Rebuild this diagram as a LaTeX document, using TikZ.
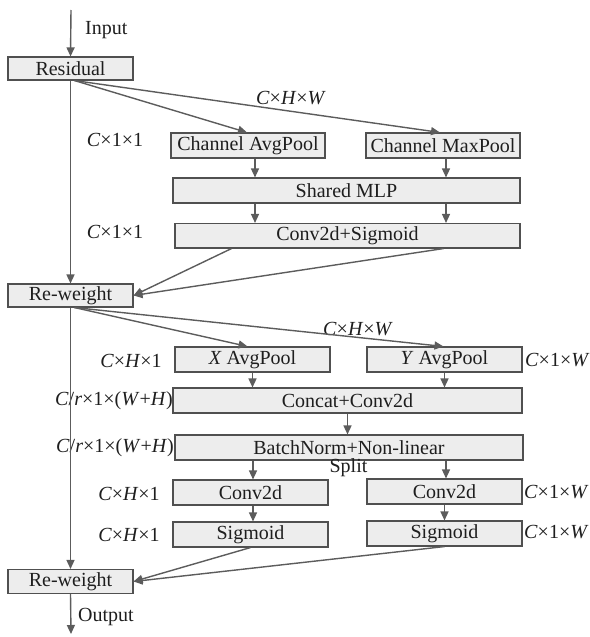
\documentclass[tikz,border=0pt]{standalone}
\usepackage{fontspec}
\setmainfont{Liberation Serif}
\newfontfamily\tnr{Liberation Serif}
\usetikzlibrary{arrows.meta}
\definecolor{boxfill}{HTML}{EDEDED}
\definecolor{boxdraw}{HTML}{505050}
\definecolor{linec}{HTML}{5C5C5C}
\definecolor{txt}{HTML}{1E1E1E}
\begin{document}
\begin{tikzpicture}[x=1pt,y=-1pt,
  box/.style={draw=boxdraw,fill=boxfill,line width=1.1pt,inner sep=0pt,
    font=\tnr\fontsize{20}{22}\selectfont,text=txt,anchor=center},
  lbl/.style={inner sep=0pt,font=\tnr\fontsize{20}{22}\selectfont,text=txt},
  arr/.style={draw=linec,line width=1.4pt,-{Triangle[length=9pt,width=8pt]}},
  ln/.style={draw=linec,line width=1.4pt}]
\useasboundingbox (0,0) rectangle (589,637);
% boxes
\node[box,minimum width=125,minimum height=23] (res) at (70.5,68.5) {Residual};
\node[box,minimum width=154,minimum height=25] (cavg) at (248,145.5) {Channel AvgPool};
\node[box,minimum width=154,minimum height=25] (cmax) at (443,145.5) {Channel MaxPool};
\node[box,minimum width=347,minimum height=25] (mlp) at (346.5,190.5) {Shared MLP};
\node[box,minimum width=345,minimum height=24.5] (csig) at (347.5,235.75) {Conv2d+Sigmoid};
\node[box,minimum width=125,minimum height=23] (rw1) at (70.5,295.5) {Re-weight};
\node[box,minimum width=155,minimum height=25] (xavg) at (252.5,359.5) {\textit{X} AvgPool};
\node[box,minimum width=155,minimum height=25] (yavg) at (444.5,359.5) {\textit{Y} AvgPool};
\node[box,minimum width=349,minimum height=25] (cat) at (347.5,400.5) {Concat+Conv2d};
\node[box,minimum width=348,minimum height=25] (bn) at (349,447.5) {BatchNorm+Non-linear};
\node[box,minimum width=155,minimum height=25] (cl) at (250.5,492.5) {Conv2d};
\node[box,minimum width=155,minimum height=25] (cr) at (444.5,491.5) {Conv2d};
\node[box,minimum width=155,minimum height=25] (sl) at (250.5,534.5) {Sigmoid};
\node[box,minimum width=155,minimum height=25] (sr) at (444.5,533.5) {Sigmoid};
\node[box,minimum width=125,minimum height=24] (rw2) at (70.5,581.5) {Re-weight};
% free ends
\coordinate (top) at (71,10);
\coordinate (bot) at (71,634);
% labels
\node[lbl,anchor=west] (linput) at (85,30) {Input};
\node[lbl] (l1) at (291,98) {\textit{C}×\textit{H}×\textit{W}};
\node[lbl] (l2) at (115,140) {\textit{C}×1×1};
\node[lbl] (l3) at (115,232) {\textit{C}×1×1};
\node[lbl] (l4) at (358,329) {\textit{C}×\textit{H}×\textit{W}};
\node[lbl] (l5) at (131,361) {\textit{C}×\textit{H}×1};
\node[lbl,anchor=west] (l6) at (525,360) {\textit{C}×1×\textit{W}};
\node[lbl,anchor=east] (l7) at (173,401) {\textit{C}/\textit{r}×1×(\textit{W}+\textit{H})};
\node[lbl,anchor=east] (l8) at (174,448) {\textit{C}/\textit{r}×1×(\textit{W}+\textit{H})};
\node[lbl] (lsplit) at (348.5,468) {Split};
\node[lbl] (l9) at (129,494) {\textit{C}×\textit{H}×1};
\node[lbl] (l10) at (129,535) {\textit{C}×\textit{H}×1};
\node[lbl,anchor=west] (l11) at (524,492) {\textit{C}×1×\textit{W}};
\node[lbl,anchor=west] (l12) at (524,532) {\textit{C}×1×\textit{W}};
\node[lbl,anchor=west] (lout) at (78,617) {Output};
% connectors
\draw[arr] (top) -- (res.north);
\draw[arr] (res.south) -- (rw1.north);
\draw[arr] (rw1.south) -- (rw2.north);
\draw[arr] (rw2.south) -- (bot);
\draw[arr] ([xshift=4pt]res.south) -- ([xshift=-1pt]cavg.north);
\draw[arr] ([xshift=4pt]res.south) -- ([xshift=-3pt]cmax.north);
\draw[arr] ([xshift=7pt]cavg.south) -- ([xshift=7pt]cavg.south |- mlp.north);
\draw[arr] ([xshift=3pt]cmax.south) -- ([xshift=3pt]cmax.south |- mlp.north);
\draw[arr] ([xshift=7pt]cavg.south |- mlp.south) -- ([xshift=7pt]cavg.south |- csig.north);
\draw[arr] ([xshift=3pt]cmax.south |- mlp.south) -- ([xshift=3pt]cmax.south |- csig.north);
\draw[arr] ([xshift=-116pt]csig.south) -- (rw1.east);
\draw[arr] ([xshift=96pt]csig.south) -- (rw1.east);
\draw[arr] ([xshift=4pt]rw1.south) -- ([xshift=-5pt]xavg.north);
\draw[arr] ([xshift=4pt]rw1.south) -- ([xshift=-1pt]yavg.north);
\draw[arr] (xavg.south) -- (xavg.south |- cat.north);
\draw[arr] (yavg.south) -- (yavg.south |- cat.north);
\draw[arr] (cat.south) -- (cat.south |- bn.north);
\draw[arr] ([xshift=2.5pt]cl.north |- bn.south) -- ([xshift=2.5pt]cl.north);
\draw[arr] ([xshift=1.5pt]cr.north |- bn.south) -- ([xshift=1.5pt]cr.north);
\draw[arr] ([xshift=2.5pt]cl.south) -- ([xshift=2.5pt]sl.north);
\draw[arr] (cr.south) -- (sr.north);
\draw[arr] (sl.south) -- (rw2.east);
\draw[arr] (sr.south) -- (rw2.east);
\end{tikzpicture}
\end{document}
